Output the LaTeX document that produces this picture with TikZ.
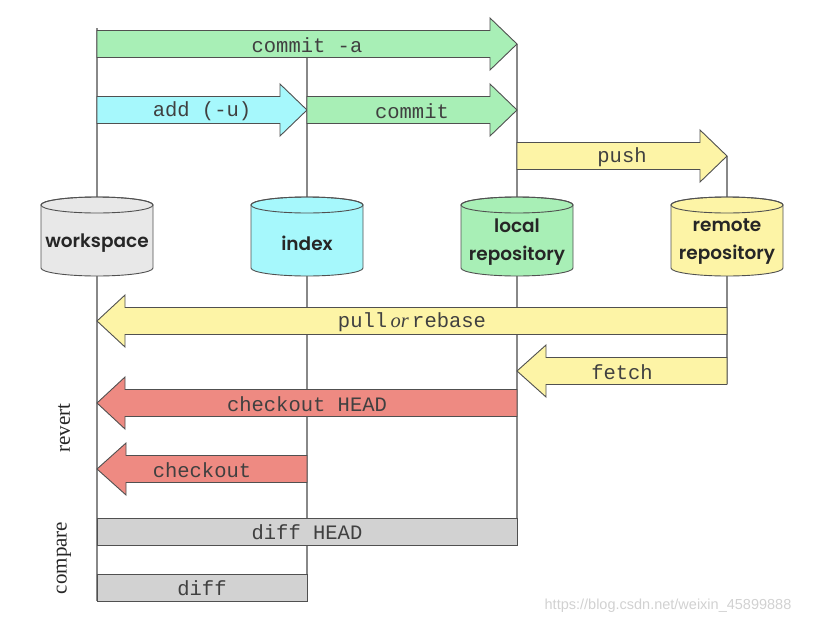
\documentclass[tikz,border=0pt]{standalone}
\usepackage{fontspec}
\setmainfont{Liberation Serif}
\setmonofont{Liberation Mono}
\setsansfont{Liberation Sans}
\newfontfamily\cylfont{Poppins SemiBold}
\definecolor{linegray}{HTML}{888888}
\definecolor{outline}{HTML}{505050}
\definecolor{txt}{HTML}{404040}
\definecolor{cgreen}{HTML}{A8EFB6}
\definecolor{ccyan}{HTML}{A6F8FC}
\definecolor{cyellow}{HTML}{FDF4A6}
\definecolor{cred}{HTML}{EE8A82}
\definecolor{cgray}{HTML}{D2D2D2}
\definecolor{cws}{HTML}{E8E8E8}
\newcommand\mycyl[2]{%
  \filldraw[fill=#2, draw=outline, line width=0.9pt]
    (#1-56,-205) -- (#1-56,-268)
    arc[start angle=180,end angle=360,x radius=56,y radius=8]
    -- (#1+56,-205)
    arc[start angle=0,end angle=180,x radius=56,y radius=8] -- cycle;
  \draw[draw=outline, line width=0.9pt] (#1,-205) ellipse[x radius=56, y radius=8];}
\newcommand\rarr[5]{%
  \filldraw[arrowshape, fill=#1]
    (#2,-#5+13.5) -- (#3,-#5+13.5) -- (#3,-#5+26) -- (#4,-#5)
    -- (#3,-#5-26) -- (#3,-#5-13.5) -- (#2,-#5-13.5) -- cycle;}
\newcommand\larr[5]{%
  \filldraw[arrowshape, fill=#1]
    (#2,-#5) -- (#3,-#5+26) -- (#3,-#5+13.5) -- (#4,-#5+13.5)
    -- (#4,-#5-13.5) -- (#3,-#5-13.5) -- (#3,-#5-26) -- cycle;}
\begin{document}
\begin{tikzpicture}[x=1pt,y=1pt,
  vline/.style={draw=linegray, line width=2.6pt},
  arrowshape/.style={draw=outline, line width=0.9pt, line join=miter},
  bar/.style={fill=cgray, draw=outline, line width=0.9pt},
  lbl/.style={font=\ttfamily\fontsize{20.5}{20.5}\selectfont, text=txt, inner sep=0pt},
  cyllbl/.style={font=\cylfont\fontsize{18.5}{28}\selectfont, align=center, text=black!85, inner sep=0pt},
  side/.style={font=\rmfamily\fontsize{21}{21}\selectfont, rotate=90, text=black!85, inner sep=0pt}]
\useasboundingbox (0,0) rectangle (813,-624);
% vertical lines
\coordinate (wsT) at (97,-28);  \coordinate (wsB) at (97,-601);
\coordinate (ixT) at (307,-57); \coordinate (ixB) at (307,-601);
\coordinate (lcT) at (517,-44); \coordinate (lcB) at (517,-545);
\coordinate (rmT) at (727,-156);\coordinate (rmB) at (727,-384);
\draw[vline] (wsT) -- (wsB);
\draw[vline] (ixT) -- (ixB);
\draw[vline] (lcT) -- (lcB);
\draw[vline] (rmT) -- (rmB);
% right arrows
\rarr{cgreen}{97}{490}{517}{44}
\rarr{ccyan}{97}{280}{307}{110}
\rarr{cgreen}{307}{490}{517}{110}
\rarr{cyellow}{517}{700}{727}{156}
% left arrows
\larr{cyellow}{97}{125}{727}{321}
\larr{cyellow}{517}{546}{727}{371}
\larr{cred}{97}{125}{517}{403}
\larr{cred}{97}{126}{307}{469}
% bars
\filldraw[bar] (97,-518.5) rectangle (517,-545);
\filldraw[bar] (97,-574.5) rectangle (307,-601);
% cylinders
\mycyl{97}{cws}
\mycyl{307}{ccyan}
\mycyl{517}{cgreen}
\mycyl{727}{cyellow}
\node[cyllbl] (ws) at (97,-243) {workspace};
\node[cyllbl] (ix) at (307,-243) {index};
\node[cyllbl] (lc) at (517,-242) {local\\repository};
\node[cyllbl] (rm) at (727,-242) {remote\\repository};
% labels
\node[lbl] (commita) at (307,-45) {commit -a};
\node[lbl] (add) at (202,-111) {add (-u)};
\node[lbl] (commit) at (412,-111) {commit};
\node[lbl] (push) at (622,-157) {push};
\node[lbl] (pull) at (412,-322) {pull\,{\rmfamily\itshape or}\,rebase};
\node[lbl] (fetch) at (622,-372) {fetch};
\node[lbl] (coh) at (307,-404) {checkout HEAD};
\node[lbl] (co) at (202,-470) {checkout};
\node[lbl] (dh) at (307,-532) {diff HEAD};
\node[lbl] (df) at (202,-588) {diff};
\node[side] (revert) at (64,-428) {revert};
\node[side] (compare) at (64,-558) {compare};
\node[font=\sffamily\fontsize{14.5}{14.5}\selectfont, text=black!18, inner sep=0pt] (wm) at (668,-606) {https://blog.csdn.net/weixin\_45899888};
\end{tikzpicture}
\end{document}
